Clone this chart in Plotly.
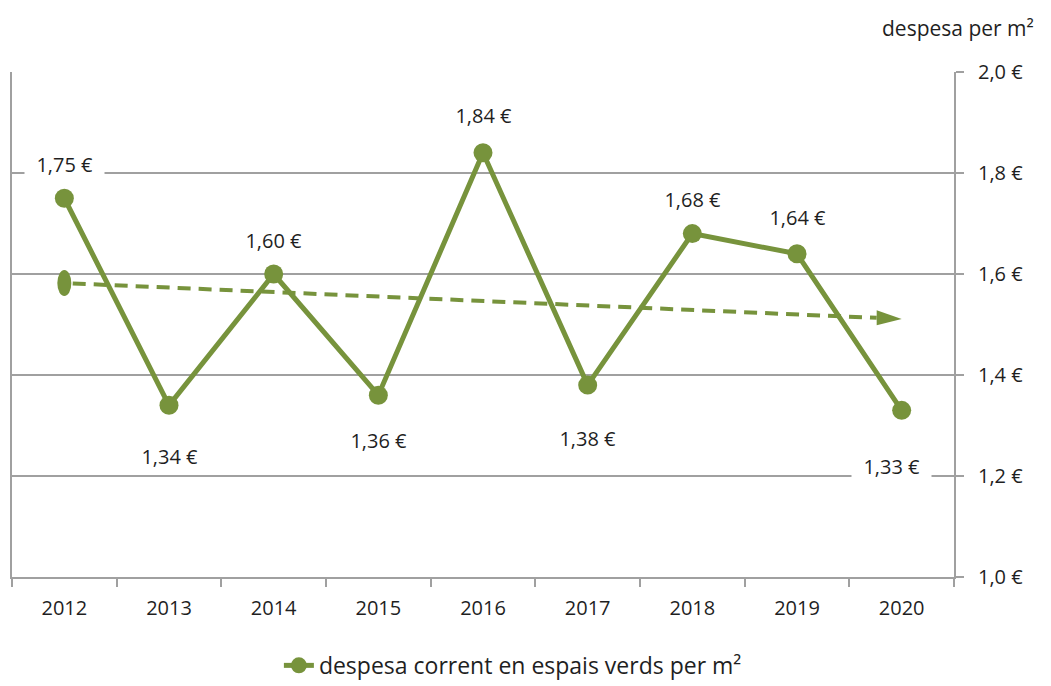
import plotly.graph_objects as go

# Annual current spending on green spaces per m² (€)
years = ["2012", "2013", "2014", "2015", "2016", "2017", "2018", "2019", "2020"]
spend = [1.75, 1.34, 1.60, 1.36, 1.84, 1.38, 1.68, 1.64, 1.33]

# Trend arrow: value at its start (2012) and at its tip (2020)
trend_start = 1.582
trend_end = 1.511

y_ticks = [1.0, 1.2, 1.4, 1.6, 1.8, 2.0]
y_tick_text = ["1,0 €", "1,2 €", "1,4 €", "1,6 €", "1,8 €", "2,0 €"]

# label placement: +1 above the point, -1 below
label_side = [1, -1, 1, -1, 1, -1, 1, 1, -1]
label_gap = [34, 51, 34, 45, 37, 53, 34, 36, 56]
label_dx = [0, 0, 0, 0, 0, 0, 0, 0, -10]

GREEN = "#77933C"
GRID = "#A0A0A0"
TEXT = "#1F1F1F"
FONT = "Open Sans"
FS = 20

W, H = 1051, 686
M_L, M_R, M_T, M_B = 12, 97, 72, 109
n = len(years)
px_per_x = (W - M_L - M_R) / n          # pixels per category
px_per_y = (H - M_T - M_B) / 1.0        # pixels per 1.0 €


def trend_at(x):
    return trend_start + (trend_end - trend_start) * x / (n - 1)


fig = go.Figure()

# arrow head geometry (pixels → data units)
head_len = 25 / px_per_x
head_half = 7.5 / px_per_y
tip_x = n - 1.0
base_x = tip_x - head_len

# dashed trend shaft
fig.add_trace(go.Scatter(
    x=[0.08, base_x], y=[trend_at(0.08), trend_at(base_x)],
    mode="lines",
    line=dict(color=GREEN, width=4, dash="13px,8px"),
    xaxis="x2", showlegend=False, hoverinfo="skip",
))

# filled arrow head
fig.add_trace(go.Scatter(
    x=[base_x, tip_x, base_x, base_x],
    y=[trend_at(base_x) + head_half, trend_at(tip_x),
       trend_at(base_x) - head_half, trend_at(base_x) + head_half],
    mode="lines", fill="toself", fillcolor=GREEN,
    line=dict(color=GREEN, width=0),
    xaxis="x2", showlegend=False, hoverinfo="skip",
))

fig.add_trace(go.Scatter(
    x=years, y=spend,
    mode="lines+markers",
    name="despesa corrent en espais verds per m²",
    line=dict(color=GREEN, width=5),
    marker=dict(color=GREEN, size=19),
))

annotations = []
for i, v in enumerate(spend):
    annotations.append(dict(
        x=i, y=v, xref="x2", yref="y",
        text="&nbsp;&nbsp;" + f"{v:.2f}".replace(".", ",") + " €&nbsp;&nbsp;",
        showarrow=False, bgcolor="white",
        font=dict(family=FONT, size=FS, color=TEXT),
        yshift=label_side[i] * label_gap[i], xshift=label_dx[i],
        borderpad=1,
    ))

annotations.append(dict(
    x=1.0, y=1.0, xref="paper", yref="paper", xanchor="right", yanchor="bottom",
    xshift=82, yshift=28,
    text="despesa per m²", showarrow=False,
    font=dict(family=FONT, size=FS + 1, color=TEXT),
))

# rounded start cap of the trend
shapes = [dict(
    type="circle", xref="x2", yref="y",
    x0=-7 / px_per_x, x1=7 / px_per_x,
    y0=trend_start - 13 / px_per_y, y1=trend_start + 13 / px_per_y,
    fillcolor=GREEN, line=dict(width=0),
)]

fig.update_layout(
    width=W, height=H,
    margin=dict(l=M_L, r=M_R, t=M_T, b=M_B, autoexpand=False),
    paper_bgcolor="white", plot_bgcolor="white",
    font=dict(family=FONT, size=FS, color=TEXT),
    xaxis=dict(
        type="category", range=[-0.5, n - 0.5],
        showgrid=False, showline=True, linecolor=GRID, linewidth=2,
        ticks="outside", tickson="boundaries", ticklen=8, tickcolor=GRID, tickwidth=2,
        ticklabelstandoff=12,
        tickfont=dict(family=FONT, size=FS, color=TEXT),
    ),
    xaxis2=dict(range=[-0.5, n - 0.5], overlaying="x", visible=False),
    yaxis=dict(
        side="right", range=[1.0, 2.0],
        tickvals=y_ticks, ticktext=y_tick_text,
        showgrid=True, gridcolor=GRID, gridwidth=2,
        showline=True, linecolor=GRID, linewidth=2, mirror=True,
        ticks="outside", ticklen=8, tickcolor=GRID, tickwidth=2,
        ticklabelstandoff=10,
        tickfont=dict(family=FONT, size=FS, color=TEXT),
        zeroline=False,
    ),
    legend=dict(
        orientation="h", xref="container", yref="container",
        x=0.488, xanchor="center", y=0.03, yanchor="middle",
        font=dict(family=FONT, size=23, color=TEXT),
    ),
    annotations=annotations,
    shapes=shapes,
)

fig.write_html("out.html")
